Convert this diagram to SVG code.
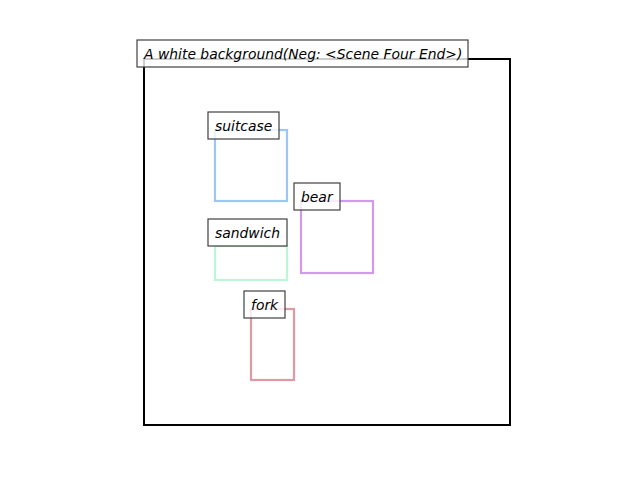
<svg xmlns="http://www.w3.org/2000/svg" width="640" height="480" viewBox="0 0 640 480">
<style>
.lbl{fill:#ffffff;fill-opacity:0.8;stroke:#404040;stroke-width:1.2}
.t{font-family:"DejaVu Sans",sans-serif;font-style:oblique;font-size:13.9px;fill:#000}
.bx{fill:none;stroke-width:2.2}
</style>
<rect x="0" y="0" width="640" height="480" fill="#fff"/>
<g id="scene">
<rect x="144" y="59" width="366" height="366" fill="none" stroke="#000" stroke-width="2"/>
</g>
<g id="suitcase">
<rect class="bx" x="215" y="130" width="72" height="71" stroke="#9dc6f5"/>
<rect class="lbl" x="208" y="112" width="71" height="27"/>
<text class="t" x="215" y="130.5">suitcase</text>
</g>
<g id="bear">
<rect class="bx" x="301" y="201" width="72" height="72" stroke="#d09aef"/>
<rect class="lbl" x="294" y="183" width="46" height="27"/>
<text class="t" x="301" y="201.5">bear</text>
</g>
<g id="sandwich">
<rect class="bx" x="215" y="246" width="72" height="34" stroke="#bdf5d8"/>
<rect class="lbl" x="208" y="219" width="79" height="27"/>
<text class="t" x="215" y="237.5">sandwich</text>
</g>
<g id="fork">
<rect class="bx" x="251" y="309" width="43" height="71" stroke="#e09aa6"/>
<rect class="lbl" x="244" y="291" width="41" height="27"/>
<text class="t" x="251" y="309.5">fork</text>
</g>
<g id="title">
<rect class="lbl" x="137" y="40" width="331" height="27"/>
<text class="t" x="144" y="58.5">A white background(Neg: &lt;Scene Four End&gt;)</text>
</g>
<g id="connectors"/>
</svg>
